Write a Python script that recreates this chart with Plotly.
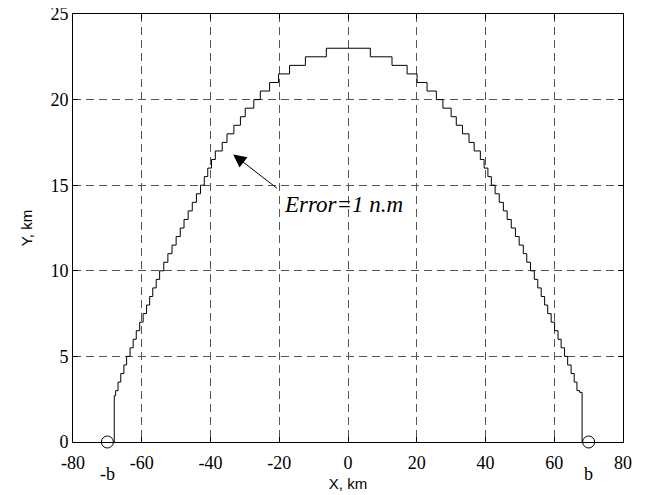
import plotly.graph_objects as go

# Left side: x where the curve steps up to each level
left_x = [-68.0, -68.0, -67.6, -66.9, -66.1, -65.2, -64.4,
          -63.4, -62.5, -61.6, -60.6, -59.6, -58.6, -57.7, -56.8, -55.8, -54.8,
          -53.6, -52.4, -51.2, -50.0, -48.8, -47.7, -46.5, -45.3, -44.1, -42.9,
          -41.8, -40.8, -39.7, -38.6, -36.6, -35.2, -33.2, -31.3, -29.9,
          -27.4, -25.5, -22.8, -20.2, -17.0, -12.4, -6.3]
left_y = [0.0, 2.7, 3.0, 3.5, 4.0, 4.5, 5.0,
          5.5, 6.0, 6.5, 7.0, 7.5, 8.0, 8.5, 9.0, 9.5, 10.0,
          10.5, 11.0, 11.5, 12.0, 12.5, 13.0, 13.5, 14.0, 14.5, 15.0,
          15.5, 16.0, 16.5, 17.0, 17.5, 18.0, 18.5, 19.0, 19.5,
          20.0, 20.5, 21.0, 21.5, 22.0, 22.5, 23.0]

# Right side: x where the curve steps down to each level
right_x = [6.5, 12.8, 17.2, 20.1, 23.0, 25.7, 27.6, 30.0, 31.5, 33.3, 35.2,
           36.7, 38.5, 39.6, 40.7, 41.7, 42.8, 44.0, 45.2, 46.3, 47.5,
           48.7, 49.8, 51.0, 52.0, 53.1, 54.2, 55.2, 56.2, 57.2, 58.1,
           59.1, 60.1, 61.1, 62.0, 63.0, 63.9, 64.9, 65.8, 66.6, 67.4, 68.1, 68.1]
right_y = [22.5, 22.0, 21.5, 21.0, 20.5, 20.0, 19.5, 19.0, 18.5, 18.0, 17.5,
           17.0, 16.5, 16.0, 15.5, 15.0, 14.5, 14.0, 13.5, 13.0, 12.5,
           12.0, 11.5, 11.0, 10.5, 10.0, 9.5, 9.0, 8.5, 8.0, 7.5,
           7.0, 6.5, 6.0, 5.5, 5.0, 4.5, 4.0, 3.5, 3.0, 2.9, 0.0, 0.0]

marker_x = [-70, 70]
marker_y = [0, 0]
marker_labels = ["-b", "b"]

x_ticks = [-80, -60, -40, -20, 0, 20, 40, 60, 80]
x_tick_text = ["-80", "-60", "-40", "-20", "0", "20", "40", "60", "80"]
y_ticks = [0, 5, 10, 15, 20, 25]
y_tick_text = ["0", "5", "10", "15", "20", "25"]

arrow_tip = (-33.4, 16.8)
arrow_tail = (-20.2, 14.75)
note_text = "Error=1 n.m"

serif = "Liberation Serif, Times New Roman, serif"
sans = "Liberation Sans, Arial, sans-serif"

fig = go.Figure()
fig.add_trace(go.Scatter(
    x=left_x + right_x, y=left_y + right_y, mode="lines",
    line=dict(color="black", width=1, shape="hv"), showlegend=False,
    hoverinfo="skip"))
fig.add_trace(go.Scatter(
    x=marker_x, y=marker_y, mode="markers",
    marker=dict(symbol="circle-open", size=12, color="black", line=dict(width=1)),
    cliponaxis=False, showlegend=False))

for xv, yv, t in zip(marker_x, marker_y, marker_labels):
    fig.add_annotation(x=xv, y=yv, text=t, showarrow=False, yshift=-32,
                       font=dict(family=serif, size=18, color="black"))

fig.add_annotation(x=arrow_tip[0], y=arrow_tip[1], ax=arrow_tail[0], ay=arrow_tail[1],
                   axref="x", ayref="y", xref="x", yref="y", text="",
                   showarrow=True, arrowhead=2, arrowsize=2.6, arrowwidth=1,
                   arrowcolor="black", standoff=0, startstandoff=0)
fig.add_annotation(x=arrow_tail[0] + 1.1, y=arrow_tail[1] - 0.85,
                   text="<i>" + note_text + "</i>",
                   showarrow=False, xanchor="left", yanchor="middle",
                   font=dict(family=serif, size=23, color="black"))

axis_common = dict(
    showline=True, linecolor="black", linewidth=1, mirror="ticks",
    ticks="inside", ticklen=5, tickcolor="black", automargin=False,
    ticklabeloverflow="allow",
    showgrid=True, gridcolor="#555555", gridwidth=1, griddash="8px,5px",
    zeroline=False, tickfont=dict(family=serif, size=18, color="black"),
)
fig.update_xaxes(range=[-80, 80], tickvals=x_ticks, ticktext=x_tick_text,
                 ticklabelstandoff=4, **axis_common,
                 title=dict(text="X, km", font=dict(family=sans, size=15, color="black"),
                            standoff=6))
fig.update_yaxes(range=[0, 25], tickvals=y_ticks, ticktext=y_tick_text, **axis_common,
                 title=dict(text="Y, km", font=dict(family=sans, size=15, color="black"),
                            standoff=14))
fig.update_layout(
    width=646, height=495,
    margin=dict(l=65, r=31, t=6, b=61),
    paper_bgcolor="white", plot_bgcolor="white",
)
fig.write_html("out.html")
